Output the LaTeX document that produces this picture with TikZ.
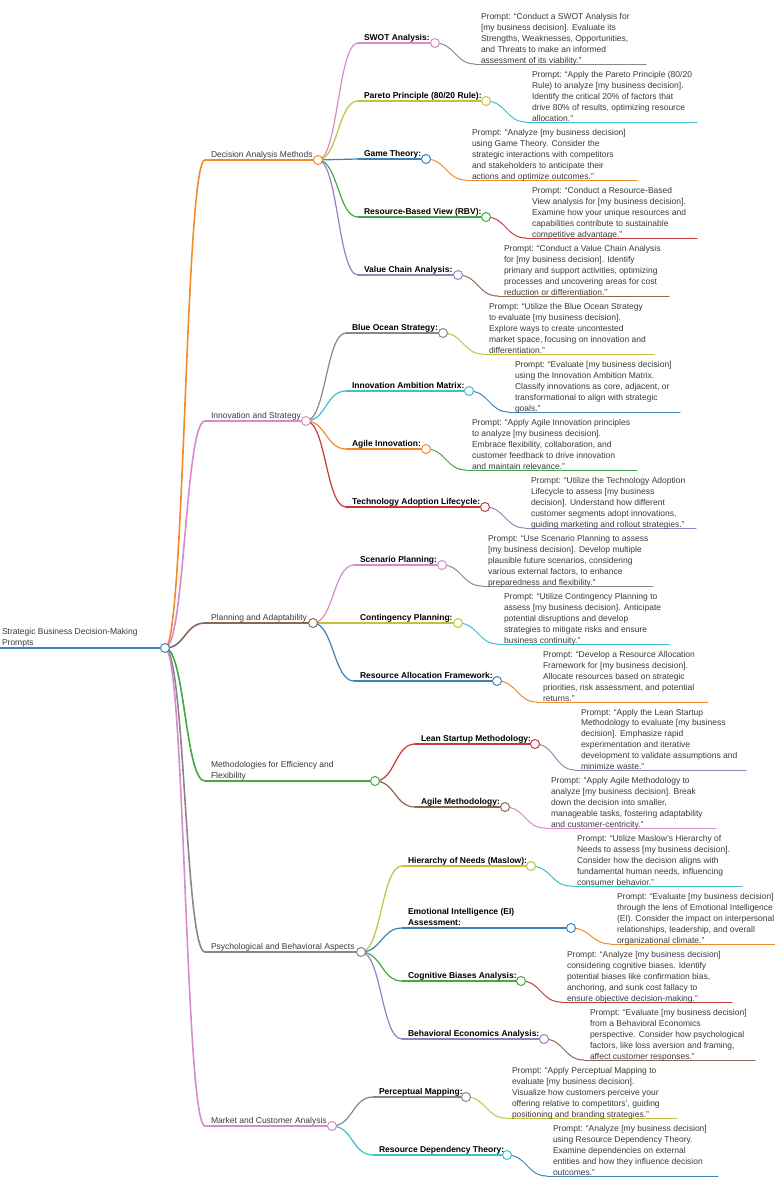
\documentclass[tikz,border=0pt]{standalone}
\usepackage{fontspec}
\setmainfont{Liberation Sans}
\usetikzlibrary{calc}
\definecolor{cblue}{HTML}{3F82B6}
\definecolor{corange}{HTML}{F08A2A}
\definecolor{cgreen}{HTML}{44A844}
\definecolor{cred}{HTML}{C8393A}
\definecolor{cpurple}{HTML}{9A7FC2}
\definecolor{cbrown}{HTML}{8C6656}
\definecolor{cpink}{HTML}{D98AC8}
\definecolor{cgray}{HTML}{888888}
\definecolor{colive}{HTML}{C2C23E}
\definecolor{ccyan}{HTML}{3EC0CC}
\definecolor{txt}{HTML}{3A3A3A}
\pgfdeclarelayer{fg}
\pgfsetlayers{main,fg}
\tikzset{
  mmtext/.style={inner sep=0pt, outer sep=0pt, anchor=south west, align=left,
    font=\fontsize{8.5}{10.8}\selectfont, text=txt},
  mmlabel/.style={mmtext, font=\bfseries\fontsize{8.5}{10.8}\selectfont, text=black},
  dot/.style={circle, fill=white, minimum size=9pt, inner sep=0pt, line width=1pt},
  lzero/.style={line width=2.6pt, line cap=round},
  lone/.style={line width=1.6pt, line cap=round},
  ltwo/.style={line width=1.2pt, line cap=round},
  lthree/.style={line width=1pt, line cap=round}
}
% curved connector: style, from, to
\newcommand\mmlink[3]{%
  \coordinate (mid) at ($(#2)!0.5!(#3)$);
  \draw[#1] (#2) .. controls (mid |- #2) and (mid |- #3) .. (#3);}
% first level: name, underline y, circle x, colour, text
\newcommand\mmone[5]{%
  \coordinate (#1u) at (205,#2);
  \coordinate (#1c) at (#3,#2);
  \mmlink{lone,#4}{rootc}{#1u}
  \draw[lone,#4] (#1u) -- (#1c);
  \node[mmtext] (#1t) at (211,#2-0.7) {#5\vphantom{(}};
  \begin{pgfonlayer}{fg}\node[dot,draw=#4] (#1d) at (#1c) {};\end{pgfonlayer}}
% second level: name, parent, text x, underline y, circle x, colour, label
\newcommand\mmtwo[7]{%
  \coordinate (#1u) at (#3-6,#4);
  \coordinate (#1c) at (#5,#4);
  \mmlink{ltwo,#6}{#2c}{#1u}
  \draw[ltwo,#6] (#1u) -- (#1c);
  \node[mmlabel] (#1t) at (#3,#4-0.7) {#7\vphantom{(}};
  \begin{pgfonlayer}{fg}\node[dot,draw=#6] (#1d) at (#1c) {};\end{pgfonlayer}}
% prompt leaf: name, circle x, underline y, colour, text
\newcommand\mmprompt[5]{%
  \coordinate (#1pu) at (#2+40,#3);
  \coordinate (#1pe) at (#2+211,#3);
  \mmlink{lthree,#4}{#1c}{#1pu}
  \draw[lthree,#4] (#1pu) -- (#1pe);
  \node[mmtext] (#1p) at (#2+46,#3+0.8) {#5\vphantom{(}};}
\begin{document}
\begin{tikzpicture}[x=1pt,y=-1pt]
\useasboundingbox (0,0) rectangle (775,1200);
% root
\coordinate (rootu) at (0,648);
\coordinate (rootc) at (165,648);
\draw[lzero,cblue] (rootu) -- (rootc);
\node[mmtext] (roott) at (2,647.3) {Strategic Business Decision-Making\\Prompts\vphantom{(}};
\begin{pgfonlayer}{fg}\node[dot,draw=cblue] (rootd) at (rootc) {};\end{pgfonlayer}

% first level
\mmone{dec}{160}{318}{corange}{Decision Analysis Methods}
\mmone{inn}{421}{306}{cpink}{Innovation and Strategy}
\mmone{pla}{623}{313}{cbrown}{Planning and Adaptability}
\mmone{met}{781}{375}{cgreen}{Methodologies for Efficiency and\\Flexibility}
\mmone{psy}{952}{361}{cgray}{Psychological and Behavioral Aspects}
\mmone{mar}{1126}{332}{cpink}{Market and Customer Analysis}

% Decision Analysis Methods
\mmtwo{swot}{dec}{364}{43}{435}{cpink}{SWOT Analysis:}
\mmprompt{swot}{435}{64}{cgray}{Prompt: “Conduct a SWOT Analysis for\\{[}my business decision{]}. Evaluate its\\Strengths, Weaknesses, Opportunities,\\and Threats to make an informed\\assessment of its viability.”}
\mmtwo{par}{dec}{364}{101}{486}{colive}{Pareto Principle (80/20 Rule):}
\mmprompt{par}{486}{122}{ccyan}{Prompt: “Apply the Pareto Principle (80/20\\Rule) to analyze {[}my business decision{]}.\\Identify the critical 20\% of factors that\\drive 80\% of results, optimizing resource\\allocation.”}
\mmtwo{gam}{dec}{364}{159}{426}{cblue}{Game Theory:}
\mmprompt{gam}{426}{180}{corange}{Prompt: “Analyze {[}my business decision{]}\\using Game Theory. Consider the\\strategic interactions with competitors\\and stakeholders to anticipate their\\actions and optimize outcomes.”}
\mmtwo{rbv}{dec}{364}{217}{486}{cgreen}{Resource-Based View (RBV):}
\mmprompt{rbv}{486}{238}{cred}{Prompt: “Conduct a Resource-Based\\View analysis for {[}my business decision{]}.\\Examine how your unique resources and\\capabilities contribute to sustainable\\competitive advantage.”}
\mmtwo{val}{dec}{364}{275}{458}{cpurple}{Value Chain Analysis:}
\mmprompt{val}{458}{296}{cbrown}{Prompt: “Conduct a Value Chain Analysis\\for {[}my business decision{]}. Identify\\primary and support activities, optimizing\\processes and uncovering areas for cost\\reduction or differentiation.”}

% Innovation and Strategy
\mmtwo{blu}{inn}{352}{333}{443}{cgray}{Blue Ocean Strategy:}
\mmprompt{blu}{443}{354}{colive}{Prompt: “Utilize the Blue Ocean Strategy\\to evaluate {[}my business decision{]}.\\Explore ways to create uncontested\\market space, focusing on innovation and\\differentiation.”}
\mmtwo{iam}{inn}{352}{391}{469}{ccyan}{Innovation Ambition Matrix:}
\mmprompt{iam}{469}{412}{cblue}{Prompt: “Evaluate {[}my business decision{]}\\using the Innovation Ambition Matrix.\\Classify innovations as core, adjacent, or\\transformational to align with strategic\\goals.”}
\mmtwo{agi}{inn}{352}{449}{426}{corange}{Agile Innovation:}
\mmprompt{agi}{426}{470}{cgreen}{Prompt: “Apply Agile Innovation principles\\to analyze {[}my business decision{]}.\\Embrace flexibility, collaboration, and\\customer feedback to drive innovation\\and maintain relevance.”}
\mmtwo{tec}{inn}{352}{507}{485}{cred}{Technology Adoption Lifecycle:}
\mmprompt{tec}{485}{528}{cpurple}{Prompt: “Utilize the Technology Adoption\\Lifecycle to assess {[}my business\\decision{]}. Understand how different\\customer segments adopt innovations,\\guiding marketing and rollout strategies.”}

% Planning and Adaptability
\mmtwo{sce}{pla}{360}{565}{442}{cpink}{Scenario Planning:}
\mmprompt{sce}{442}{586}{cgray}{Prompt: “Use Scenario Planning to assess\\{[}my business decision{]}. Develop multiple\\plausible future scenarios, considering\\various external factors, to enhance\\preparedness and flexibility.”}
\mmtwo{con}{pla}{360}{623}{458}{colive}{Contingency Planning:}
\mmprompt{con}{458}{644}{ccyan}{Prompt: “Utilize Contingency Planning to\\assess {[}my business decision{]}. Anticipate\\potential disruptions and develop\\strategies to mitigate risks and ensure\\business continuity.”}
\mmtwo{ral}{pla}{360}{681}{497}{cblue}{Resource Allocation Framework:}
\mmprompt{ral}{497}{702}{corange}{Prompt: “Develop a Resource Allocation\\Framework for {[}my business decision{]}.\\Allocate resources based on strategic\\priorities, risk assessment, and potential\\returns.”}

% Methodologies for Efficiency and Flexibility
\mmtwo{lea}{met}{421}{744}{535}{cred}{Lean Startup Methodology:}
\mmprompt{lea}{535}{770}{cpurple}{Prompt: “Apply the Lean Startup\\Methodology to evaluate {[}my business\\decision{]}. Emphasize rapid\\experimentation and iterative\\development to validate assumptions and\\minimize waste.”}
\mmtwo{agm}{met}{421}{807}{505}{cbrown}{Agile Methodology:}
\mmprompt{agm}{505}{828}{cpink}{Prompt: “Apply Agile Methodology to\\analyze {[}my business decision{]}. Break\\down the decision into smaller,\\manageable tasks, fostering adaptability\\and customer-centricity.”}

% Psychological and Behavioral Aspects
\mmtwo{hie}{psy}{408}{866}{531}{colive}{Hierarchy of Needs (Maslow):}
\mmprompt{hie}{531}{886}{ccyan}{Prompt: “Utilize Maslow’s Hierarchy of\\Needs to assess {[}my business decision{]}.\\Consider how the decision aligns with\\fundamental human needs, influencing\\consumer behavior.”}
\mmtwo{emo}{psy}{408}{928}{571}{cblue}{Emotional Intelligence (EI)\\Assessment:}
\mmprompt{emo}{571}{944}{corange}{Prompt: “Evaluate {[}my business decision{]}\\through the lens of Emotional Intelligence\\(EI). Consider the impact on interpersonal\\relationships, leadership, and overall\\organizational climate.”}
\mmtwo{cog}{psy}{408}{981}{521}{cgreen}{Cognitive Biases Analysis:}
\mmprompt{cog}{521}{1002}{cred}{Prompt: “Analyze {[}my business decision{]}\\considering cognitive biases. Identify\\potential biases like confirmation bias,\\anchoring, and sunk cost fallacy to\\ensure objective decision-making.”}
\mmtwo{beh}{psy}{408}{1039}{544}{cpurple}{Behavioral Economics Analysis:}
\mmprompt{beh}{544}{1060}{cbrown}{Prompt: “Evaluate {[}my business decision{]}\\from a Behavioral Economics\\perspective. Consider how psychological\\factors, like loss aversion and framing,\\affect customer responses.”}

% Market and Customer Analysis
\mmtwo{per}{mar}{379}{1097}{466}{cgray}{Perceptual Mapping:}
\mmprompt{per}{466}{1118}{colive}{Prompt: “Apply Perceptual Mapping to\\evaluate {[}my business decision{]}.\\Visualize how customers perceive your\\offering relative to competitors’, guiding\\positioning and branding strategies.”}
\mmtwo{rdt}{mar}{379}{1155}{507}{ccyan}{Resource Dependency Theory:}
\mmprompt{rdt}{507}{1176}{cblue}{Prompt: “Analyze {[}my business decision{]}\\using Resource Dependency Theory.\\Examine dependencies on external\\entities and how they influence decision\\outcomes.”}
\end{tikzpicture}
\end{document}
